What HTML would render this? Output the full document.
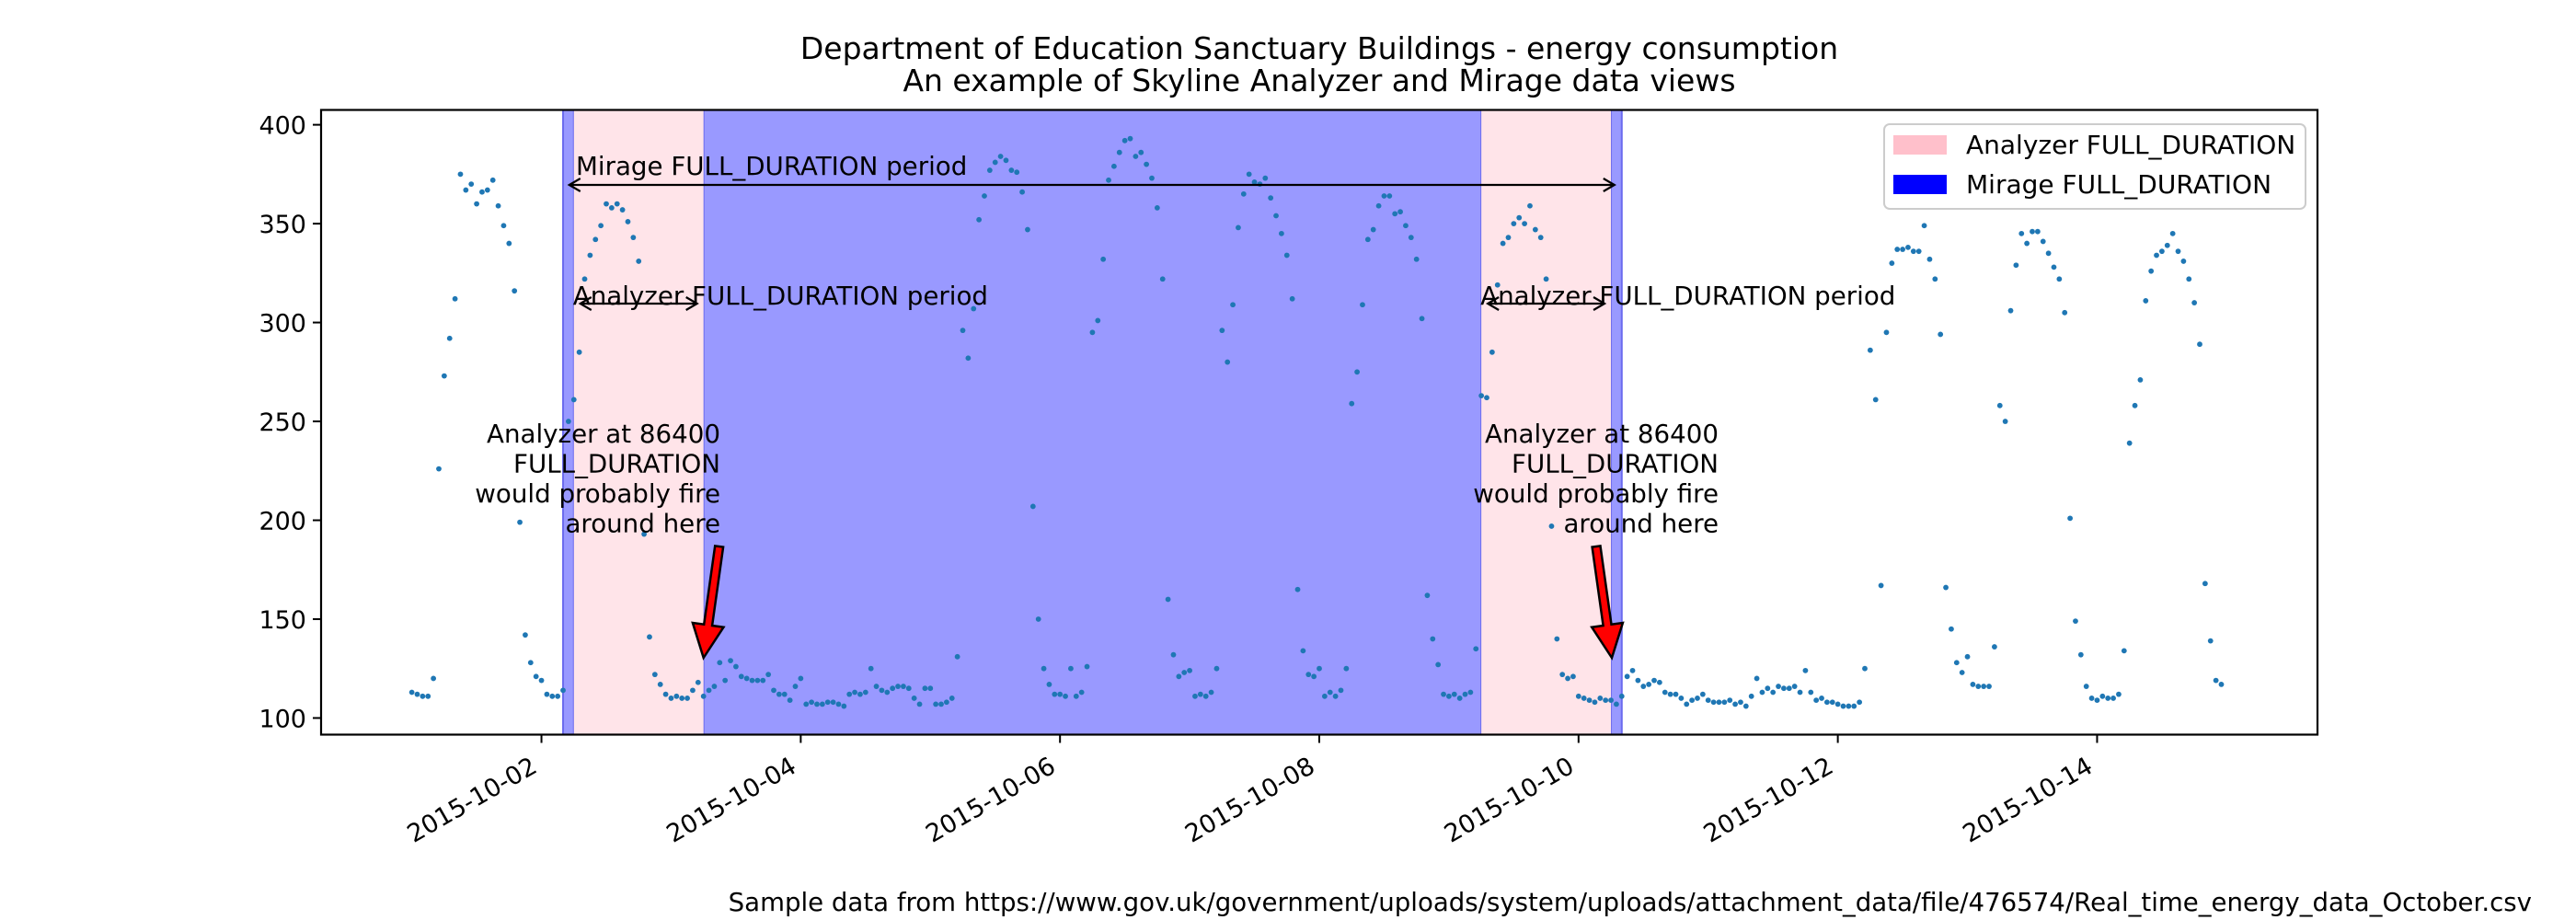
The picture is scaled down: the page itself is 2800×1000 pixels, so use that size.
<!DOCTYPE html>
<html><head><meta charset="utf-8"><title>Energy consumption chart</title>
<style>
html,body{margin:0;padding:0;background:#fff;}
svg{display:block;font-family:"DejaVu Sans","Liberation Sans",sans-serif;}
</style></head>
<body>
<svg id="chart" width="2800" height="1000" viewBox="0 0 2800 1000" xmlns="http://www.w3.org/2000/svg">
  <rect x="0" y="0" width="2800" height="1000" fill="#fff"/>
  <text x="1434" y="64" font-size="33" text-anchor="middle">Department of Education Sanctuary Buildings - energy consumption</text>
  <text x="1434" y="99" font-size="33" text-anchor="middle">An example of Skyline Analyzer and Mirage data views</text>
  <g id="bands"></g>
  <g id="points"></g>
  <g id="annot"></g>
  <rect x="349" y="119.5" width="2170" height="679" fill="none" stroke="#000" stroke-width="2.2"/>
  <g id="xaxis"></g>
  <g id="yaxis"></g>
  <g>
    <rect x="2048" y="135" width="458" height="92" rx="6" fill="#fff" fill-opacity="0.8" stroke="#ccc" stroke-width="2"/>
    <rect x="2058" y="147" width="58" height="21" fill="#ffc0cb"/>
    <text x="2137" y="167" font-size="28">Analyzer FULL_DURATION</text>
    <rect x="2058" y="190" width="58" height="21" fill="#0000ff"/>
    <text x="2137" y="210" font-size="28">Mirage FULL_DURATION</text>
  </g>
  <text x="2752" y="990" font-size="27.6" text-anchor="end">Sample data from https://www.gov.uk/government/uploads/system/uploads/attachment_data/file/476574/Real_time_energy_data_October.csv</text>
</svg>
<script>
// hourly readings per day (kW), starting 2015-10-01 00:00
const day01 = [113,112,111,111,120,226,273,292,312,375,367,370,360,366,367,372,359,349,340,316,199,142,128,121];
const day02 = [119,112,111,111,114,250,261,285,322,334,342,349,360,358,360,357,351,343,331,193,141,122,117,112];
const day03 = [110,111,110,110,114,118,111,114,116,128,119,129,126,121,120,119,119,119,122,114,112,112,109,116];
const day04 = [120,107,108,107,107,108,108,107,106,112,113,112,113,125,116,114,113,115,116,116,115,110,107,115];
const day05 = [115,107,107,108,110,131,296,282,307,352,364,377,381,384,382,377,376,366,347,207,150,125,117,112];
const day06 = [112,111,125,111,113,126,295,301,332,372,379,386,392,393,384,386,380,373,358,322,160,132,121,123];
const day07 = [124,111,112,111,113,125,296,280,309,348,365,375,371,370,373,363,354,345,334,312,165,134,122,121];
const day08 = [125,111,113,111,114,125,259,275,309,342,347,359,364,364,355,356,349,343,332,302,162,140,127,112];
const day09 = [111,112,110,112,113,135,263,262,285,319,340,343,350,353,350,359,347,343,322,197,140,122,120,121];
const day10 = [111,110,109,108,110,109,109,107,111,121,124,119,116,117,119,118,113,112,112,110,107,109,110,112];
const day11 = [109,108,108,108,109,107,108,106,111,120,113,115,113,116,115,115,116,113,124,113,109,110,108,108];
const day12 = [107,106,106,106,108,125,286,261,167,295,330,337,337,338,336,336,349,332,322,294,166,145,128,123];
const day13 = [131,117,116,116,116,136,258,250,306,329,345,340,346,346,341,335,328,322,305,201,149,132,116,110];
const day14 = [109,111,110,110,112,134,239,258,271,311,326,334,336,339,345,336,331,322,310,289,168,139,119,117];
const days = [day01,day02,day03,day04,day05,day06,day07,day08,day09,day10,day11,day12,day13,day14];
// x tick labels (day offsets from 2015-10-01)
const xTickDays = [1,3,5,7,9,11,13];
const xTickLabels = ["2015-10-02","2015-10-04","2015-10-06","2015-10-08","2015-10-10","2015-10-12","2015-10-14"];
const yTicks = [100,150,200,250,300,350,400];
// periods in day offsets from 2015-10-01 00:00
const analyzerPeriods = [[1+6/24, 2+6/24],[8+6/24, 9+6/24]];
const miragePeriods = [[1+4/24, 1+6/24],[2+6/24, 8+6/24],[9+6/24, 9+8/24]];

const NS = "http://www.w3.org/2000/svg";
const X0 = 349, X1 = 2519, Y0 = 798.5, Y1 = 119.5;
const DMIN = -0.7, DMAX = 14.7, VMIN = 91.6, VMAX = 407.5;
function xs(d){ return X0 + (d - DMIN) / (DMAX - DMIN) * (X1 - X0); }
function ys(v){ return Y0 - (v - VMIN) / (VMAX - VMIN) * (Y0 - Y1); }
function mk(tag, attrs, parent){
  const e = document.createElementNS(NS, tag);
  for (const k in attrs) e.setAttribute(k, attrs[k]);
  parent.appendChild(e);
  return e;
}

const bands = document.getElementById('bands');
miragePeriods.forEach(p => {
  const r = mk('rect', {x: xs(p[0]), y: Y1, width: xs(p[1]) - xs(p[0]), height: Y0 - Y1, fill: '#9999ff', stroke: '#6b6bef', 'stroke-width': 2}, bands);
  
  
});
analyzerPeriods.forEach(p => {
  const r = mk('rect', {x: xs(p[0]), y: Y1, width: xs(p[1]) - xs(p[0]), height: Y0 - Y1, fill: '#ffe4e9'}, bands);
  
  
});

const pts = document.getElementById('points');
days.forEach((arr, di) => {
  arr.forEach((v, h) => {
    const c = mk('circle', {cx: xs(di + h / 24), cy: ys(v), r: 2.9, fill: '#1f77b4'}, pts);
    
    
  });
});

const xa = document.getElementById('xaxis');
xTickDays.forEach((d, i) => {
  const x = xs(d);
  const t = mk('line', {x1: x, y1: Y0, x2: x, y2: Y0 + 9, stroke: '#000', 'stroke-width': 2}, xa);
  
  
  const lx = x - 3, ly = 838;
  const tx = mk('text', {x: lx, y: ly, 'font-size': 27, 'text-anchor': 'end', transform: 'rotate(-30 ' + lx + ' ' + ly + ')'}, xa);
  tx.textContent = xTickLabels[i];
  
  
});
const ya = document.getElementById('yaxis');
yTicks.forEach(v => {
  const y = ys(v);
  const t = mk('line', {x1: X0 - 9, y1: y, x2: X0, y2: y, stroke: '#000', 'stroke-width': 2}, ya);
  
  
  const tx = mk('text', {x: X0 - 16, y: y + 10, 'font-size': 27, 'text-anchor': 'end'}, ya);
  tx.textContent = v;
  
  
});

const an = document.getElementById('annot');
function dblArrow(xa1, xa2, y, name){
  const g = mk('g', {stroke: '#000', 'stroke-width': 2.2, fill: 'none'}, an);
  
  
  mk('line', {x1: xa1, y1: y, x2: xa2, y2: y}, g);
  mk('polyline', {points: (xa1+12)+','+(y-7)+' '+xa1+','+y+' '+(xa1+12)+','+(y+7)}, g);
  mk('polyline', {points: (xa2-12)+','+(y-7)+' '+xa2+','+y+' '+(xa2-12)+','+(y+7)}, g);
}
function label(x, y, txt, anchor, name){
  const t = mk('text', {x: x, y: y, 'font-size': 27.7, 'text-anchor': anchor}, an);
  t.textContent = txt;
  
  
}
dblArrow(xs(analyzerPeriods[0][0]) - 5, xs(miragePeriods[2][1]) - 8, 201, 'mirage-period-arrow');
label(626, 190, 'Mirage FULL_DURATION period', 'start', 'mirage-period-label');
const noteRight = [783, 1868];
analyzerPeriods.forEach((p, i) => {
  dblArrow(xs(p[0]) + 7, xs(p[1]) - 7, 330, 'analyzer-period-arrow');
  label(xs(p[0]) - 1, 331, 'Analyzer FULL_DURATION period', 'start', 'analyzer-period-label');
  const rx = noteRight[i];
  ['Analyzer at 86400','FULL_DURATION','would probably fire','around here'].forEach((s, j) => {
    label(rx, 481 + j * 32.5, s, 'end', 'fire-note-line');
  });
  const tipX = xs(p[1]) + (i === 0 ? 0 : 1), tipY = 715;
  const tailX = i === 0 ? tipX + 17 : tipX - 17, tailY = 594;
  const dx = tipX - tailX, dy = tipY - tailY, L = Math.hypot(dx, dy);
  const ux = dx / L, uy = dy / L, nx = -uy, ny = ux;
  const hl = 36, sw = 4.5, hw = 17;
  const bx = tipX - ux * hl, by = tipY - uy * hl;
  const P = [
    [tailX + nx*sw, tailY + ny*sw], [bx + nx*sw, by + ny*sw], [bx + nx*hw, by + ny*hw],
    [tipX, tipY], [bx - nx*hw, by - ny*hw], [bx - nx*sw, by - ny*sw], [tailX - nx*sw, tailY - ny*sw]
  ];
  const arr = mk('polygon', {points: P.map(q => q[0].toFixed(1)+','+q[1].toFixed(1)).join(' '), fill: '#ff0000', stroke: '#000', 'stroke-width': 2.5}, an);
  
  
});
</script>
</body></html>
